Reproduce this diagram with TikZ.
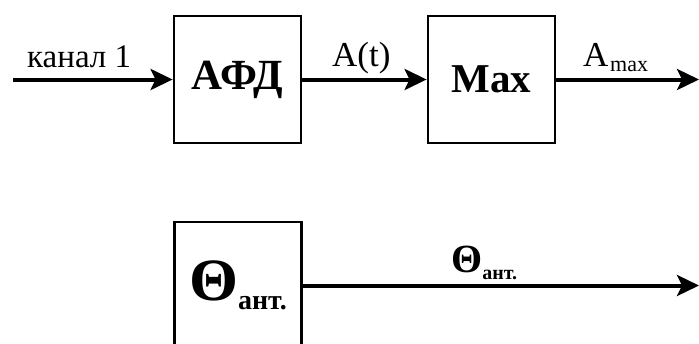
\documentclass[tikz,border=0pt]{standalone}
\usepackage{fontspec}
\setmainfont{Liberation Serif}
\usetikzlibrary{arrows.meta}
\begin{document}
\begin{tikzpicture}[x=1pt,y=-1pt,
  blk/.style={draw=black, line width=2.8pt, minimum width=127pt, minimum height=127pt, inner sep=0pt},
  sig/.style={line width=4pt, -{Stealth[length=22pt,width=21pt,inset=5pt]}},
  lbl/.style={inner sep=0pt, anchor=base west}]
\useasboundingbox (0,0) rectangle (699,343);
\clip (0,0) rectangle (699,343);
\node[blk] (afd) at (237.5,79.5) {\fontsize{43}{43}\selectfont\bfseries АФД};
\node[blk] (max) at (491.5,79.5) {\fontsize{41}{41}\selectfont\bfseries Max};
\node[blk] (th) at (238,285.5) {\bfseries\scalebox{1.05}[1]{\fontsize{60}{60}\selectfont Θ}\raisebox{-9pt}{\fontsize{28}{28}\selectfont ант.}};
\coordinate (in) at (13,79.5);
\coordinate (o1) at (699,79.5);
\coordinate (o2) at (699,285.5);
\draw[sig] (in) -- (afd.west);
\draw[sig] (afd.east) -- (max.west);
\draw[sig] (max.east) -- (o1);
\draw[sig] (th.east) -- (o2);
\node[lbl, font=\fontsize{33}{33}\selectfont] (l1) at (27,67) {канал 1};
\node[lbl, font=\fontsize{35}{35}\selectfont] (l2) at (332,66) {A(t)};
\node[lbl] (l3) at (583,66) {{\fontsize{35}{35}\selectfont A}\,\raisebox{-5pt}{\fontsize{22}{22}\selectfont max}};
\node[lbl] (l4) at (451,272) {\bfseries{\fontsize{40}{40}\selectfont Θ}\raisebox{-7pt}{\fontsize{20}{20}\selectfont ант.}};
\end{tikzpicture}
\end{document}
